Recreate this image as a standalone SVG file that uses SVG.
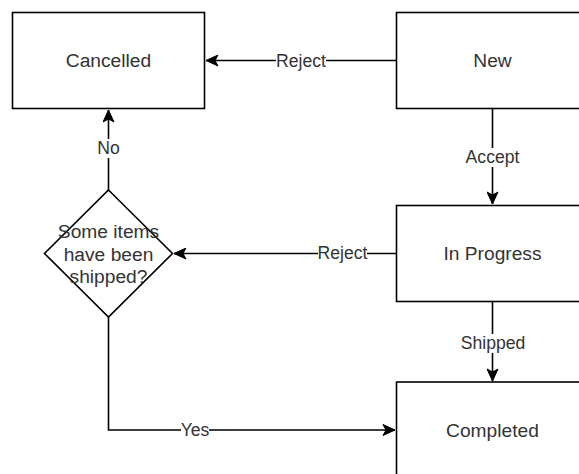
<svg xmlns="http://www.w3.org/2000/svg" width="579" height="474" viewBox="0 0 579 474">
<style>
.box{fill:#fff;stroke:#000;stroke-width:1.6}
.lbl{font-family:"Liberation Sans",Arial,sans-serif;font-size:19.2px;fill:#333;text-anchor:middle;dominant-baseline:central}
.edge{fill:none;stroke:#000;stroke-width:1.6}
.elbl{font-family:"Liberation Sans",Arial,sans-serif;font-size:17.6px;fill:#333;text-anchor:middle;dominant-baseline:central}
.bg{fill:#fff}
</style>
<defs>
<marker id="arr" markerUnits="userSpaceOnUse" markerWidth="14" markerHeight="12" viewBox="-13 -6 14 12" refX="0" refY="0" orient="auto">
<path d="M-12,-5.5 L0,0 L-12,5.5 L-9,0 Z" fill="#000" stroke="#000" stroke-width="1"/>
</marker>
</defs>
<rect width="579" height="474" fill="#fff"/>
<g id="connectors">
<g id="e-new-cancelled">
<path class="edge" d="M396.5,60.5 L206,60.5" marker-end="url(#arr)"/>
<rect class="bg" x="276" y="51" width="50" height="19"/>
<text class="elbl" x="301" y="60.5">Reject</text>
</g>
<g id="e-new-inprogress">
<path class="edge" d="M492.5,108.5 L492.5,204" marker-end="url(#arr)"/>
<rect class="bg" x="466" y="148" width="53" height="19"/>
<text class="elbl" x="492.5" y="157">Accept</text>
</g>
<g id="e-inprogress-diamond">
<path class="edge" d="M396.5,253.5 L174,253.5" marker-end="url(#arr)"/>
<rect class="bg" x="318" y="244" width="49" height="19"/>
<text class="elbl" x="342.5" y="253">Reject</text>
</g>
<g id="e-diamond-cancelled">
<path class="edge" d="M108.5,190 L108.5,110" marker-end="url(#arr)"/>
<rect class="bg" x="97" y="139" width="23" height="19"/>
<text class="elbl" x="108.5" y="148">No</text>
</g>
<g id="e-inprogress-completed">
<path class="edge" d="M492.5,301.5 L492.5,381" marker-end="url(#arr)"/>
<rect class="bg" x="462" y="334" width="62" height="19"/>
<text class="elbl" x="493" y="343">Shipped</text>
</g>
<g id="e-diamond-completed">
<path class="edge" d="M108.5,317 L108.5,430 L395,430" marker-end="url(#arr)"/>
<rect class="bg" x="181" y="421" width="28" height="19"/>
<text class="elbl" x="195" y="430">Yes</text>
</g>
</g>
<g id="cancelled">
<rect class="box" x="12.5" y="12.5" width="192" height="96"/>
<text class="lbl" x="108.5" y="60.5">Cancelled</text>
</g>
<g id="new">
<rect class="box" x="396.5" y="12.5" width="192" height="96"/>
<text class="lbl" x="492.5" y="60.5">New</text>
</g>
<g id="inprogress">
<rect class="box" x="396.5" y="205.5" width="192" height="96"/>
<text class="lbl" x="492.5" y="253.5">In Progress</text>
</g>
<g id="completed">
<rect class="box" x="396.5" y="382" width="192" height="96"/>
<text class="lbl" x="492.5" y="430">Completed</text>
</g>
<g id="decision">
<polygon class="box" points="108.5,190 172.5,253.5 108.5,317 44.5,253.5"/>
<text class="lbl" x="108.5" y="231.5">Some items</text>
<text class="lbl" x="108.5" y="254">have been</text>
<text class="lbl" x="108.5" y="276.5">shipped?</text>
</g>
</svg>
